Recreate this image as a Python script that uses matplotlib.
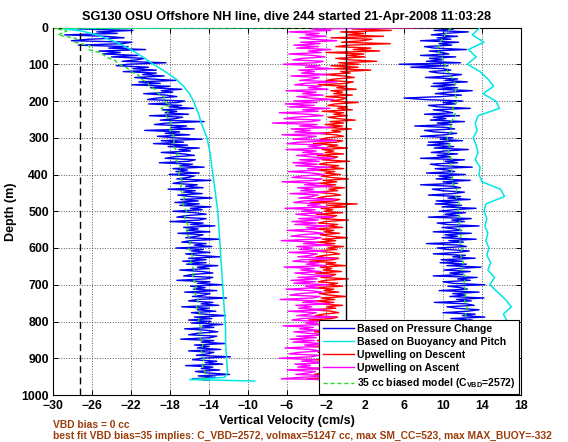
import numpy as np
import matplotlib
matplotlib.use('Agg')
import matplotlib.pyplot as plt

plt.rcParams['font.family'] = ['Liberation Sans', 'DejaVu Sans']
plt.rcParams['font.weight'] = 'bold'
plt.rcParams['mathtext.fontset'] = 'custom'
plt.rcParams['mathtext.rm'] = 'Liberation Sans:bold'
plt.rcParams['mathtext.bf'] = 'Liberation Sans:bold'
plt.rcParams['mathtext.it'] = 'Liberation Sans:bold'

# ---------------- data ----------------
title_text = "SG130 OSU Offshore NH line, dive 244 started 21-Apr-2008 11:03:28"
xticks = [-30, -26, -22, -18, -14, -10, -6, -2, 2, 6, 10, 14, 18]
yticks = [0, 100, 200, 300, 400, 500, 600, 700, 800, 900, 1000]
legend_labels = ["Based on Pressure Change", "Based on Buoyancy and Pitch",
                 "Upwelling on Descent", "Upwelling on Ascent",
                 r"35 cc biased model (C$_{\mathrm{VBD}}$=2572)"]
vbd_line1 = "VBD bias = 0 cc"
vbd_line2 = "best fit VBD bias=35 implies: C_VBD=2572, volmax=51247 cc, max SM_CC=523, max MAX_BUOY=-332"
x_ref_dashed = -27.2
x_zero = 0.0

# sampled depths (m) for the noisy series (every 4 m, 0..960)
depth_fine = np.arange(0, 961, 4)

w_press_dn = [
    -23.9, -27.5, -21.8, -25.5, -23.4, -28.8, -24.6, -22.7, -26.4, -28.1,
    -21.9, -22.9, -27.4, -22.3, -24.3, -20.5, -25.3, -23.1, -24.9, -21.3,
    -24.0, -20.6, -21.4, -22.9, -18.4, -22.3, -23.5, -20.2, -21.8, -19.4,
    -22.8, -19.4, -20.8, -18.6, -21.6, -20.0, -17.4, -21.2, -19.0, -21.9,
    -18.0, -20.0, -16.8, -18.9, -17.7, -20.7, -18.4, -17.3, -19.4, -20.3,
    -16.5, -17.2, -20.2, -16.8, -18.1, -15.6, -18.8, -17.3, -18.5, -16.1,
    -20.1, -16.7, -17.5, -19.0, -14.5, -18.4, -19.6, -16.3, -17.9, -15.5,
    -20.6, -17.0, -18.5, -16.0, -19.3, -17.6, -14.7, -18.9, -16.6, -19.7,
    -16.2, -18.2, -15.0, -17.1, -15.9, -18.9, -16.6, -15.5, -17.6, -18.5,
    -15.4, -16.1, -19.1, -15.7, -17.0, -14.5, -17.7, -16.2, -17.4, -15.0,
    -18.1, -15.5, -16.1, -17.3, -13.8, -16.8, -17.7, -15.2, -16.4, -14.6,
    -18.2, -15.4, -16.6, -14.7, -17.2, -15.9, -13.7, -16.9, -15.1, -17.5,
    -15.0, -17.0, -13.8, -15.9, -14.7, -17.7, -15.4, -14.3, -16.4, -17.3,
    -14.3, -15.0, -18.0, -14.6, -15.9, -13.4, -16.6, -15.1, -16.3, -13.9,
    -17.2, -14.6, -15.2, -16.4, -12.9, -15.9, -16.8, -14.3, -15.5, -13.7,
    -17.4, -14.6, -15.8, -13.9, -16.4, -15.1, -12.9, -16.1, -14.3, -16.7,
    -14.3, -16.3, -13.1, -15.2, -14.0, -17.0, -14.7, -13.6, -15.7, -16.6,
    -13.6, -14.3, -17.3, -13.9, -15.2, -12.7, -15.9, -14.4, -15.6, -13.2,
    -16.5, -13.9, -14.5, -15.7, -12.2, -15.2, -16.1, -13.6, -14.8, -13.0,
    -16.8, -14.0, -15.2, -13.3, -15.8, -14.5, -12.3, -15.5, -13.7, -16.1,
    -13.8, -15.8, -12.6, -14.7, -13.5, -16.5, -14.2, -13.1, -15.2, -16.1,
    -13.2, -13.9, -16.9, -13.5, -14.8, -12.3, -15.5, -14.0, -15.2, -12.8,
    -16.1, -13.5, -14.1, -15.3, -11.8, -14.8, -15.7, -13.2, -14.4, -12.6,
    -16.4, -13.6, -14.8, -12.9, -15.4, -14.1, -11.9, -15.1, -13.3, -15.7,
    -14.0]

w_press_up = [
    8.4, 11.1, 9.1, 12.6, 10.2, 8.8, 11.5, 9.4, 10.8, 7.7,
    11.6, 9.6, 10.9, 8.1, 9.1, 12.4, 8.6, 9.9, 10.6, 7.7,
    11.3, 8.6, 9.9, 8.3, 11.8, 5.5, 10.5, 6.7, 10.0, 10.8,
    8.6, 9.6, 11.9, 10.7, 8.2, 11.5, 10.2, 12.5, 9.0, 11.2,
    8.8, 11.5, 9.5, 13.0, 10.6, 9.2, 11.9, 9.8, 6.0, 8.1,
    12.0, 10.0, 11.3, 8.5, 9.5, 12.8, 9.0, 10.3, 11.0, 8.1,
    11.7, 9.0, 10.3, 8.7, 12.2, 9.4, 10.9, 7.1, 10.4, 11.2,
    8.1, 9.1, 11.4, 10.2, 7.7, 11.0, 9.7, 12.0, 8.5, 10.7,
    8.4, 11.1, 9.1, 12.6, 10.2, 8.8, 11.5, 9.4, 10.8, 7.7,
    12.2, 10.2, 11.5, 8.7, 9.7, 13.0, 9.2, 10.5, 11.2, 8.3,
    12.3, 9.6, 10.9, 9.3, 12.8, 10.0, 11.5, 7.7, 11.0, 11.8,
    8.9, 9.9, 12.2, 11.0, 8.5, 11.8, 10.5, 12.8, 9.3, 11.5,
    9.2, 11.9, 9.9, 13.4, 11.0, 9.6, 12.3, 10.2, 11.6, 8.5,
    12.9, 10.9, 12.2, 9.4, 10.4, 13.7, 9.9, 11.2, 11.9, 9.0,
    12.9, 10.2, 11.5, 9.9, 13.4, 10.6, 12.1, 8.3, 11.6, 12.4,
    9.4, 10.4, 12.7, 11.5, 9.0, 12.3, 11.0, 13.3, 9.8, 12.0,
    9.7, 12.4, 10.4, 13.9, 11.5, 10.1, 12.8, 10.7, 12.1, 9.0,
    13.5, 11.5, 12.8, 10.0, 11.0, 14.3, 10.5, 11.8, 12.5, 9.6,
    13.7, 11.0, 12.3, 10.7, 14.2, 11.4, 12.9, 9.1, 12.4, 13.2,
    10.4, 11.4, 13.7, 12.5, 10.0, 13.3, 12.0, 14.3, 10.8, 13.0,
    10.8, 13.5, 11.5, 15.0, 12.6, 11.2, 13.9, 11.8, 13.2, 10.1,
    14.7, 12.7, 14.0, 11.2, 12.2, 15.5, 11.7, 13.0, 13.7, 10.8,
    14.8, 12.1, 13.4, 11.8, 15.3, 12.5, 14.0, 10.2, 13.5, 14.3,
    11.4, 12.4, 14.7, 13.5, 11.0, 14.3, 13.0, 15.3, 11.8, 14.0,
    13.4]

w_upwell_dn = [
    7.5, 0.7, 4.7, -0.5, 1.9, 0.1, 3.9, -1.5, 2.7, 1.7,
    -0.4, 4.6, 0.3, -1.0, 2.6, 0.8, 3.5, -2.0, 1.9, 0.1,
    2.0, -1.0, 0.5, 3.2, -0.7, 1.4, -1.5, 1.3, -1.2, 2.6,
    -0.5, 0.5, -2.3, -0.1, 0.9, -1.0, -2.0, 0.8, 0.1, -2.8,
    0.1, -0.9, 1.1, -1.5, -0.3, -1.2, 0.7, -2.0, 0.1, -0.4,
    -1.5, 1.3, -1.1, -1.8, 0.2, -0.8, 0.7, -2.4, -0.2, -1.2,
    0.2, -1.8, -0.8, 1.0, -1.6, -0.2, -2.1, -0.3, -1.9, 0.6,
    -1.4, -0.5, -2.9, -1.0, -0.2, -1.8, -2.6, -0.3, -0.9, -3.3,
    -0.8, -1.8, 0.2, -2.4, -1.2, -2.1, -0.2, -2.9, -0.8, -1.3,
    -2.4, 0.4, -2.0, -2.7, -0.7, -1.7, -0.2, -3.3, -1.1, -2.1,
    -0.5, -2.5, -1.5, 0.3, -2.3, -0.9, -2.8, -1.0, -2.6, -0.1,
    -1.7, -0.8, -3.2, -1.3, -0.5, -2.1, -2.9, -0.6, -1.2, -3.6,
    1.2, -1.9, 0.1, -2.5, -1.3, -2.2, -0.3, -3.0, -0.9, -1.4,
    -2.5, 0.3, -2.1, -2.8, -0.8, -1.8, -0.3, -3.4, -1.2, -2.2,
    -0.6, -2.6, -1.6, 0.2, -2.4, -1.0, -2.9, -1.1, -2.7, -0.2,
    -1.8, -0.9, -3.3, -1.4, -0.6, -2.2, -3.0, -0.7, -1.3, -3.7,
    -1.0, -2.0, 0.0, -2.6, -1.4, -2.3, -0.4, -3.1, -1.0, -1.5,
    -2.5, 0.3, -2.1, -2.8, -0.8, -1.8, -0.3, -3.4, -1.2, -2.2,
    -0.7, -2.7, -1.7, 0.1, -2.5, -1.1, -3.0, -1.2, -2.8, -0.3,
    -1.9, -1.0, -3.4, -1.5, -0.7, -2.3, -3.1, -0.8, -1.4, -3.8,
    -1.1, -2.1, -0.1, -2.7, -1.5, -2.4, -0.5, -3.2, -1.1, -1.6,
    -2.6, 0.2, -2.2, -2.9, -0.9, -1.9, -0.4, -3.5, -1.3, -2.3,
    -0.8, -2.8, -1.8, 0.0, -2.6, -1.2, -3.1, -1.3, -2.9, -0.4,
    -2.0, -1.1, -3.5, -1.6, -0.8, -2.4, -3.2, -0.9, -1.5, -3.9,
    -1.8]

w_upwell_up = [
    9.0, -3.5, -1.5, -5.8, -2.7, -4.1, -2.0, -4.7, -3.3, -0.9,
    -4.6, -2.6, -5.3, -2.8, -5.0, -1.5, -3.8, -2.5, -5.8, -3.3,
    -2.1, -4.4, -5.4, -2.3, -3.1, -6.4, -2.6, -4.1, -1.3, -4.8,
    -3.2, -4.5, -1.8, -5.6, -2.7, -3.4, -4.7, -0.9, -4.2, -5.2,
    -2.5, -3.8, -1.8, -6.1, -3.0, -4.4, -2.3, -5.0, -3.6, -1.2,
    -5.3, -2.9, -6.2, -3.2, -5.8, -1.6, -4.4, -2.8, -6.8, -3.8,
    -2.3, -5.1, -6.3, -2.6, -3.5, -7.5, -2.9, -4.7, -1.4, -5.6,
    -3.6, -5.2, -2.0, -6.5, -3.0, -3.9, -5.4, -0.9, -4.8, -6.0,
    -2.5, -3.8, -1.8, -6.1, -3.0, -4.4, -2.3, -5.0, -3.6, -1.2,
    -4.7, -2.7, -5.4, -2.9, -5.1, -1.6, -3.9, -2.6, -5.9, -3.4,
    -2.2, -4.5, -5.5, -2.4, -3.2, -6.5, -2.7, -4.2, -1.4, -4.9,
    -3.3, -4.6, -1.9, -5.7, -2.8, -3.5, -4.8, -1.0, -4.3, -5.3,
    -2.6, -3.9, -1.9, -6.2, -3.1, -4.5, -2.4, -5.1, -3.7, -1.3,
    -4.8, -2.8, -5.5, -3.0, -5.2, -1.7, -4.0, -2.7, -6.0, -3.5,
    -2.3, -4.6, -5.6, -2.5, -3.3, -6.6, -2.8, -4.3, -1.5, -5.0,
    -3.4, -4.7, -2.0, -5.8, -2.9, -3.6, -4.9, -1.1, -4.4, -5.4,
    -2.7, -4.0, -2.0, -6.3, -3.2, -4.6, -2.5, -5.2, -3.8, -1.4,
    -4.9, -2.9, -5.6, -3.1, -5.3, -1.8, -4.1, -2.8, -6.1, -3.6,
    -2.4, -4.7, -5.7, -2.6, -3.4, -6.7, -2.9, -4.4, -1.6, -5.1,
    -3.5, -4.8, -2.1, -5.9, -3.0, -3.7, -5.0, -1.2, -4.5, -5.5,
    -2.8, -4.1, -2.1, -6.4, -3.3, -4.7, -2.6, -5.3, -3.9, -1.5,
    -5.0, -3.0, -5.7, -3.2, -5.4, -1.9, -4.2, -2.9, -6.2, -3.7,
    -2.5, -4.8, -5.8, -2.7, -3.5, -6.8, -3.0, -4.5, -1.7, -5.2,
    -3.6, -4.9, -2.2, -6.0, -3.1, -3.8, -5.1, -1.3, -4.6, -6.6,
    5.0]

buoy_dn_depth = [0, 3, 10, 20, 40, 60, 80, 100, 120, 140, 160, 180, 200, 220,
                 240, 260, 280, 300, 340, 380, 420, 460, 500, 540, 580, 620,
                 660, 700, 740, 780, 820, 860, 900, 940, 952, 958, 962]
w_buoy_dn = [-7.0, -29.0, -27.0, -25.5, -23.5, -22.0, -20.8, -19.7, -18.5,
             -17.4, -16.6, -16.0, -15.6, -15.3, -15.0, -14.8, -14.5, -14.2,
             -13.9, -13.7, -13.5, -13.3, -13.1, -13.0, -12.9, -12.8, -12.7,
             -12.6, -12.5, -12.4, -12.3, -12.3, -12.2, -12.1, -12.4, -16.0,
             -9.3]

buoy_up_depth = np.arange(0, 961, 20)
w_buoy_up = [13.8, 13.0, 14.2, 12.6, 13.4, 12.5, 13.8, 14.6, 15.2, 14.1,
             15.4, 15.8, 13.6, 13.3, 13.5, 13.1, 13.4, 13.6, 13.3, 13.8,
             13.7, 14.0, 15.9, 16.3, 14.4, 14.2, 14.5, 14.3, 14.6, 14.4,
             14.7, 14.5, 14.9, 14.6, 15.3, 14.8, 15.6, 16.4, 17.0, 16.2,
             16.6, 15.8, 16.1, 15.6, 15.9, 15.4, 15.7, 15.2, 15.0]

model_dn_depth = [0, 2, 10, 20, 30, 40, 50, 60, 70, 80, 90, 100, 110, 120,
                  130, 140, 150, 160, 170, 180, 190, 200, 210, 220, 230, 240,
                  260, 280, 300, 320, 340, 360, 380, 400, 420, 440, 460, 480,
                  500, 520, 540, 560, 580, 600, 620, 640, 660, 680, 700, 720,
                  740, 760, 780, 800, 820, 840, 860, 880, 900, 920, 940, 960]
w_model_dn = [10.5, -29.8, -28.6, -29.5, -27.6, -27.8, -26.2, -26.4, -25.0,
              -24.6, -23.6, -23.3, -22.4, -22.0, -21.2, -21.0, -20.3, -20.1,
              -19.4, -19.2, -18.6, -18.7, -18.0, -18.9, -18.2, -18.4,
              -17.9, -18.0, -17.5, -17.7, -17.2, -17.4, -16.9, -17.1, -16.7,
              -17.0, -16.5, -16.7, -16.3, -16.5, -16.1, -16.3, -15.9, -16.1,
              -15.7, -15.9, -15.5, -15.7, -15.3, -15.5, -15.1, -15.3, -14.9,
              -15.1, -14.8, -15.0, -14.6, -14.8, -14.5, -14.7, -14.4, -14.6]

model_up_depth = np.arange(0, 961, 20)
w_model_up = [10.8, 10.2, 9.7, 9.4, 9.9, 10.2, 10.5, 11.0, 11.4, 11.2,
              11.5, 11.0, 11.3, 10.7, 10.9, 10.4, 10.7, 10.5, 10.9, 10.7,
              11.0, 10.9, 11.4, 11.3, 11.7, 11.5, 11.8, 11.6, 11.9, 11.7,
              12.0, 11.8, 12.1, 11.9, 12.3, 12.1, 12.4, 12.2, 12.5, 12.3,
              12.6, 12.4, 12.7, 12.5, 12.8, 12.6, 12.9, 12.7, 13.0]

# ---------------- styles ----------------
c_press = '#0000f0'
c_buoy = '#00e6e6'
c_dn = '#ff0000'
c_up = '#ff00ff'
c_model = '#22dd22'
c_note = '#9a3d0a'
lw_noisy = 1.0

fig = plt.figure(figsize=(5.68, 4.42), dpi=100)
ax = fig.add_axes([53 / 568, 1 - 395 / 442, 468 / 568, 367.5 / 442])

l1, = ax.plot(w_press_dn, depth_fine, color=c_press, lw=lw_noisy, zorder=2)
ax.plot(w_press_up, depth_fine, color=c_press, lw=lw_noisy, zorder=2)
l2, = ax.plot(w_buoy_dn, buoy_dn_depth, color=c_buoy, lw=1.1, zorder=3)
ax.plot(w_buoy_up, buoy_up_depth, color=c_buoy, lw=1.1, zorder=3)
l3, = ax.plot(w_upwell_dn, depth_fine, color=c_dn, lw=lw_noisy, zorder=4)
l4, = ax.plot(w_upwell_up, depth_fine, color=c_up, lw=lw_noisy, zorder=4)
l5, = ax.plot(w_model_dn, model_dn_depth, color=c_model, lw=1.0, dashes=(3, 2), zorder=6)
ax.plot(w_model_up, model_up_depth, color=c_model, lw=1.0, dashes=(3, 2), zorder=6)

ax.axvline(x_zero, color='k', lw=1.0, zorder=7)
ax.axvline(x_ref_dashed, color='k', lw=1.0, dashes=(5, 3), zorder=7)

ax.set_xlim(-30, 18)
ax.set_ylim(1000, 0)
ax.set_xticks(xticks)
ax.set_yticks(yticks)
ax.tick_params(direction='in', top=True, right=True, length=3.5, width=0.7,
               labelsize=8.8)
ax.tick_params(axis='x', pad=3.5)
ax.tick_params(axis='y', pad=3)
for lab in ax.get_xticklabels() + ax.get_yticklabels():
    lab.set_fontweight('bold')
ax.grid(True, linestyle=':', color='0.35', lw=0.7)
ax.set_axisbelow(True)
for s in ax.spines.values():
    s.set_linewidth(0.8)

ax.set_title(title_text, fontsize=9.2, fontweight='bold', pad=5.5)
ax.set_xlabel("Vertical Velocity (cm/s)", fontsize=9, fontweight='bold')
ax.set_ylabel("Depth (m)", fontsize=9, fontweight='bold')
ax.xaxis.set_label_coords(0.5, -0.054)
ax.yaxis.set_label_coords(-0.077, 0.5)

leg = ax.legend([l1, l2, l3, l4, l5], legend_labels, loc='lower right',
                bbox_to_anchor=(0.996, 0.003), prop={'weight': 'bold', 'size': 7.5},
                frameon=True, fancybox=False, framealpha=1, edgecolor='k',
                borderaxespad=0, handlelength=3.0, handletextpad=0.3,
                labelspacing=0.3, borderpad=0.35)
leg.get_frame().set_linewidth(0.8)
for h in leg.get_lines():
    h.set_linewidth(1.0)
leg.set_zorder(10)

fig.text(53 / 568, 1 - 424.5 / 442, vbd_line1, color=c_note, fontsize=7.4,
         fontweight='bold', ha='left', va='center')
fig.text(53 / 568, 1 - 435.5 / 442, vbd_line2, color=c_note, fontsize=7.4,
         fontweight='bold', ha='left', va='center')

fig.savefig('out.png', dpi=100)
